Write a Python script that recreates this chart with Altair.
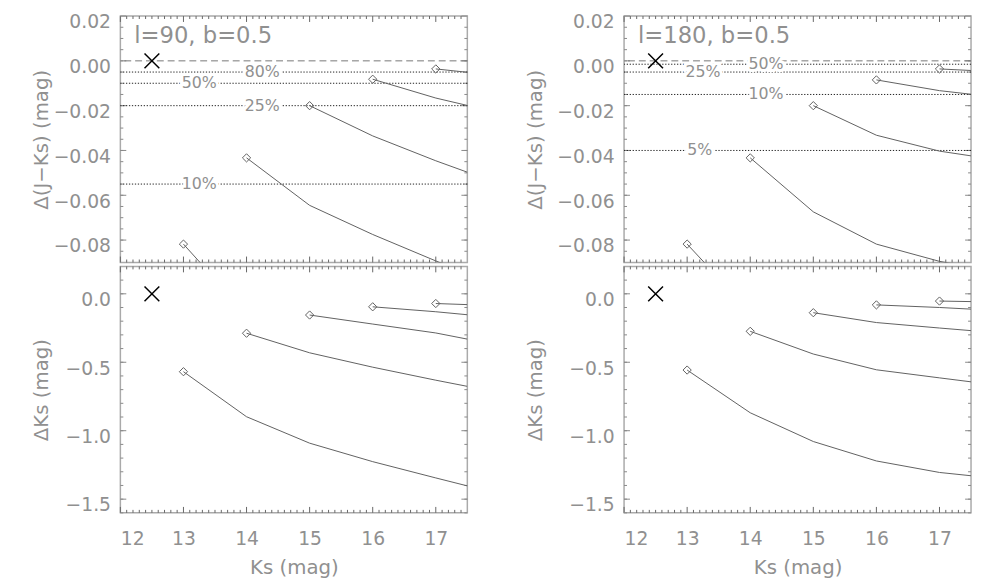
import altair as alt
import pandas as pd
import numpy as np

# ---------------- data ----------------
KS = [13, 14, 15, 16, 17, 17.5]

# l=90, Delta(J-Ks); each series starts at Ks = 13, 14, 15, 16, 17
jk90 = {
    13: [-0.0818, -0.113],
    14: [-0.0433, -0.0645, -0.0775, -0.0893, -0.095],
    15: [-0.0200, -0.0335, -0.0446, -0.0497],
    16: [-0.0082, -0.0166, -0.0199],
    17: [-0.0036, -0.0051],
}
# l=180, Delta(J-Ks)
jk180 = {
    13: [-0.0818, -0.112],
    14: [-0.0433, -0.0674, -0.0818, -0.0895, -0.092],
    15: [-0.0200, -0.0332, -0.0403, -0.0424],
    16: [-0.0085, -0.0133, -0.0149],
    17: [-0.0036, -0.0043],
}
# l=90, Delta Ks
dk90 = {
    13: [-0.569, -0.898, -1.091, -1.226, -1.345, -1.403],
    14: [-0.288, -0.431, -0.536, -0.631, -0.676],
    15: [-0.155, -0.221, -0.286, -0.331],
    16: [-0.095, -0.131, -0.153],
    17: [-0.071, -0.079],
}
# l=180, Delta Ks
dk180 = {
    13: [-0.557, -0.869, -1.079, -1.221, -1.305, -1.329],
    14: [-0.274, -0.440, -0.555, -0.614, -0.643],
    15: [-0.138, -0.210, -0.250, -0.269],
    16: [-0.081, -0.100, -0.112],
    17: [-0.053, -0.057],
}

pct90_labels = ["80%", "50%", "25%", "10%"]
pct90_levels = [-0.005, -0.010, -0.020, -0.055]
pct90_xpos = [14.25, 13.25, 14.25, 13.25]

pct180_labels = ["50%", "25%", "10%", "5%"]
pct180_levels = [-0.0015, -0.005, -0.015, -0.040]
pct180_xpos = [14.25, 13.25, 14.25, 13.2]

ref_point_ks = [12.5]
ref_point_val = [0.0]

x_major = [12, 13, 14, 15, 16, 17]
x_minor = [round(v, 2) for v in np.arange(12.1, 17.5, 0.1) if abs(v - round(v)) > 1e-6]
jk_major = [-0.08, -0.06, -0.04, -0.02, 0.0, 0.02]
jk_minor = [round(v, 4) for v in np.arange(-0.085, 0.02, 0.005)]
dk_major = [-1.5, -1.0, -0.5, 0.0]
dk_minor = [round(v, 2) for v in np.arange(-1.6, 0.2, 0.1)]

# ---------------- style ----------------
W, H = 352, 250
GREY = "#909090"
LINE = "#606060"
FONT = "DejaVu Sans"
MAJ, MIN = 6, 3


def series_df(d):
    rows = []
    for start, vals in d.items():
        i0 = KS.index(start)
        for k, v in zip(KS[i0:], vals):
            rows.append({"ks": k, "val": v, "series": str(start)})
    return pd.DataFrame(rows)


def panel(d, kind, pct=None, label=None, title_x=-80):
    if kind == "jk":
        ydom = [-0.09, 0.02]
        ymaj, ymin, fmt = jk_major, jk_minor, ".2f"
        ytitle = "Δ(J−Ks) (mag)"
        xaxis = None
    else:
        ydom = [-1.6, 0.2]
        ymaj, ymin, fmt = dk_major, dk_minor, ".1f"
        ytitle = "ΔKs (mag)"
        xaxis = alt.Axis(values=x_major, format="d", title="Ks (mag)", ticks=False,
                         domain=False, grid=False, labelPadding=17, titlePadding=10)
    yaxis = alt.Axis(values=ymaj, format=fmt, title=ytitle, ticks=False, domain=False,
                     grid=False, labelPadding=10, labelOffset=6, titleX=title_x,
                     titleBaseline="middle")
    xs = alt.Scale(domain=[12, 17.5], nice=False, zero=False)
    ys = alt.Scale(domain=ydom, nice=False, zero=False)

    def X(f):
        return alt.X(f, type="quantitative", scale=xs, axis=xaxis)

    def Y(f):
        return alt.Y(f, type="quantitative", scale=ys, axis=yaxis)

    layers = []
    # inward ticks on all four sides
    xt = pd.DataFrame({"t": x_major + x_minor,
                       "L": [MAJ] * len(x_major) + [MIN] * len(x_minor)})
    yt = pd.DataFrame({"t": list(ymaj) + ymin,
                       "L": [MAJ] * len(ymaj) + [MIN] * len(ymin)})
    for L in (MAJ, MIN):
        sub = xt[xt.L == L]
        layers.append(alt.Chart(sub).mark_rule(color="#666", strokeWidth=1).encode(
            x=X("t"), y=alt.value(H), y2=alt.value(H - L)))
        layers.append(alt.Chart(sub).mark_rule(color="#666", strokeWidth=1).encode(
            x=X("t"), y=alt.value(0), y2=alt.value(L)))
        suby = yt[yt.L == L]
        layers.append(alt.Chart(suby).mark_rule(color="#888", strokeWidth=1).encode(
            y=Y("t"), x=alt.value(0), x2=alt.value(L)))
        layers.append(alt.Chart(suby).mark_rule(color="#888", strokeWidth=1).encode(
            y=Y("t"), x=alt.value(W), x2=alt.value(W - L)))

    if kind == "jk":
        zero = pd.DataFrame({"v": [0.0]})
        layers.append(alt.Chart(zero).mark_rule(color="#777", strokeWidth=1,
                                                strokeDash=[7, 4]).encode(y=Y("v")))
        labels, levels, xpos = pct
        pdf = pd.DataFrame({"lab": labels, "lev": levels, "x": xpos})
        layers.append(alt.Chart(pdf).mark_rule(color="#222", strokeWidth=1,
                                               strokeDash=[1.3, 1.7]).encode(y=Y("lev")))
        layers.append(alt.Chart(pdf).mark_text(font=FONT, fontSize=16,
                                               color="white", stroke="white",
                                               strokeWidth=6).encode(
            x=X("x"), y=Y("lev"), text="lab:N"))
        layers.append(alt.Chart(pdf).mark_text(font=FONT, fontSize=16,
                                               color=GREY).encode(
            x=X("x"), y=Y("lev"), text="lab:N"))

    df = series_df(d)
    layers.append(alt.Chart(df).mark_line(color=LINE, strokeWidth=1, clip=True).encode(
        x=X("ks"), y=Y("val"), detail="series:N"))
    first = df.groupby("series", as_index=False).first()
    layers.append(alt.Chart(first).mark_point(shape="diamond", size=70, filled=False,
                                              color=LINE, strokeWidth=1, opacity=1).encode(
        x=X("ks"), y=Y("val")))
    refp = pd.DataFrame({"ks": ref_point_ks, "val": ref_point_val})
    layers.append(alt.Chart(refp).mark_point(shape="M-1,-1L1,1M-1,1L1,-1", size=225,
                                             filled=False, color="black", strokeWidth=1.5,
                                             opacity=1).encode(x=X("ks"), y=Y("val")))
    if label is not None:
        tdf = pd.DataFrame({"t": [label], "x": [12.22], "y": [0.0112]})
        layers.append(alt.Chart(tdf).mark_text(font=FONT, fontSize=23,
                                               color=GREY, align="left").encode(
            x=X("x"), y=Y("y"), text="t:N"))
    return alt.layer(*layers).properties(width=W, height=H)


tl = panel(jk90, "jk", (pct90_labels, pct90_levels, pct90_xpos), "l=90, b=0.5", title_x=-80)
bl = panel(dk90, "dk", title_x=-80)
tr = panel(jk180, "jk", (pct180_labels, pct180_levels, pct180_xpos), "l=180, b=0.5", title_x=-90)
br = panel(dk180, "dk", title_x=-90)

chart = alt.hconcat(
    alt.vconcat(tl, bl, spacing=0),
    alt.vconcat(tr, br, spacing=0),
    spacing=56,
).properties(
    padding={"left": 23, "top": 0, "right": 0, "bottom": 0}
).configure_view(
    stroke="#aaaaaa", strokeWidth=1.5
).configure_axis(
    labelFont=FONT, labelFontSize=19, labelColor=GREY,
    titleFont=FONT, titleFontWeight="normal", titleFontSize=20, titleColor=GREY,
)

chart.save("out.html", embed_options={"renderer": "svg", "actions": False})
